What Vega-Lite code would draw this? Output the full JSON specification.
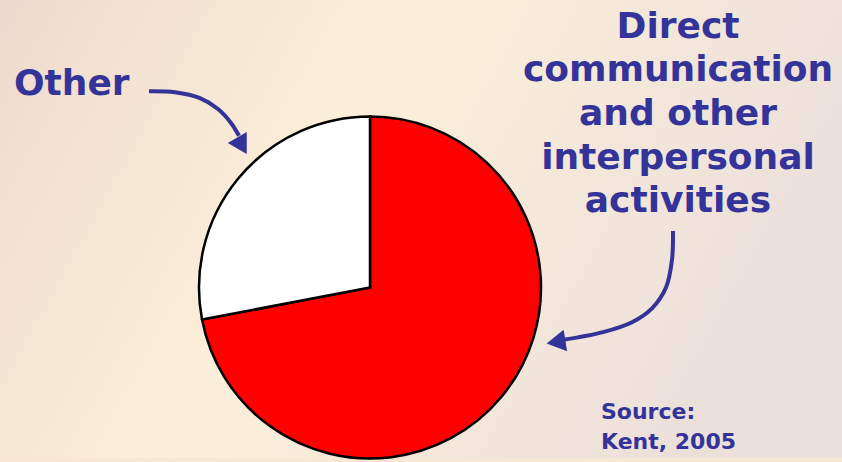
{
  "$schema": "https://vega.github.io/schema/vega-lite/v6.json",
  "width": 842,
  "height": 462,
  "autosize": {"type": "fit", "contains": "padding"},
  "padding": 0,
  "background": "#f7e7d4",
  "config": {"view": {"stroke": null}},
  "datasets": {
    "slices": [
      {"category": "Direct communication and other interpersonal activities", "share": 72, "ord": 1, "cx": 370, "cy": 290},
      {"category": "Other", "share": 28, "ord": 2, "cx": 370, "cy": 290}
    ],
    "arrowOther": [
      {"seq": 1, "px": 149, "py": 92},
      {"seq": 2, "px": 175, "py": 93},
      {"seq": 3, "px": 200, "py": 99},
      {"seq": 4, "px": 218, "py": 110},
      {"seq": 5, "px": 231, "py": 124},
      {"seq": 6, "px": 239, "py": 137}
    ],
    "arrowDirect": [
      {"seq": 1, "px": 673, "py": 233},
      {"seq": 2, "px": 672, "py": 262},
      {"seq": 3, "px": 666, "py": 290},
      {"seq": 4, "px": 652, "py": 311},
      {"seq": 5, "px": 632, "py": 325},
      {"seq": 6, "px": 603, "py": 335},
      {"seq": 7, "px": 562, "py": 343}
    ]
  },
  "encoding": {
    "x": {"type": "quantitative", "scale": {"domain": [0, 842], "nice": false, "zero": false}, "axis": null},
    "y": {"type": "quantitative", "scale": {"domain": [462, 0], "nice": false, "zero": false}, "axis": null}
  },
  "layer": [
    {
      "data": {"values": [{"bg": 1}]},
      "mark": {
        "type": "rect",
        "color": {
          "gradient": "linear", "x1": 0, "y1": 0, "x2": 1, "y2": 0.3,
          "stops": [
            {"offset": 0, "color": "#eedace"},
            {"offset": 0.45, "color": "#fcefd9"},
            {"offset": 1, "color": "#ece0db"}
          ]
        }
      },
      "encoding": {"x": null, "y": null}
    },
    {
      "data": {"name": "slices"},
      "mark": {"type": "arc", "outerRadius": 171, "stroke": "#000000", "strokeWidth": 2.5},
      "encoding": {
        "x": {"field": "cx"},
        "y": {"field": "cy"},
        "theta": {"field": "share", "type": "quantitative", "stack": true},
        "order": {"field": "ord", "type": "quantitative"},
        "color": {
          "field": "category", "type": "nominal", "legend": null,
          "scale": {"domain": ["Direct communication and other interpersonal activities", "Other"], "range": ["#ff0000", "#ffffff"]}
        }
      }
    },
    {
      "data": {"name": "arrowOther"},
      "mark": {"type": "line", "color": "#333399", "strokeWidth": 4, "interpolate": "catmull-rom"},
      "encoding": {"x": {"field": "px"}, "y": {"field": "py"}, "order": {"field": "seq", "type": "quantitative"}}
    },
    {
      "data": {"values": [{"px": 242, "py": 147}]},
      "mark": {"type": "point", "shape": "triangle-up", "filled": true, "color": "#333399", "size": 480, "angle": 150, "opacity": 1},
      "encoding": {"x": {"field": "px"}, "y": {"field": "py"}}
    },
    {
      "data": {"name": "arrowDirect"},
      "mark": {"type": "line", "color": "#333399", "strokeWidth": 4, "interpolate": "catmull-rom"},
      "encoding": {"x": {"field": "px"}, "y": {"field": "py"}, "order": {"field": "seq", "type": "quantitative"}}
    },
    {
      "data": {"values": [{"px": 556, "py": 345}]},
      "mark": {"type": "point", "shape": "triangle-up", "filled": true, "color": "#333399", "size": 480, "angle": 261, "opacity": 1},
      "encoding": {"x": {"field": "px"}, "y": {"field": "py"}}
    },
    {
      "data": {"values": [{"label": "Other", "px": 14, "py": 96}]},
      "mark": {"type": "text", "font": "DejaVu Sans", "fontWeight": "bold", "fontSize": 36, "color": "#333399", "align": "left", "baseline": "alphabetic"},
      "encoding": {"x": {"field": "px"}, "y": {"field": "py"}, "text": {"field": "label"}}
    },
    {
      "data": {"values": [{"label": "Direct\ncommunication\nand other\ninterpersonal\nactivities", "px": 678, "py": 38}]},
      "mark": {"type": "text", "font": "DejaVu Sans", "fontWeight": "bold", "fontSize": 36, "color": "#333399", "align": "center", "baseline": "alphabetic", "lineBreak": "\n", "lineHeight": 43.7},
      "encoding": {"x": {"field": "px"}, "y": {"field": "py"}, "text": {"field": "label"}}
    },
    {
      "data": {"values": [{"label": "Source:\nKent, 2005", "px": 601, "py": 423}]},
      "mark": {"type": "text", "font": "DejaVu Sans", "fontWeight": "bold", "fontSize": 22, "color": "#333399", "align": "left", "baseline": "alphabetic", "lineBreak": "\n", "lineHeight": 30},
      "encoding": {"x": {"field": "px"}, "y": {"field": "py"}, "text": {"field": "label"}}
    }
  ]
}
